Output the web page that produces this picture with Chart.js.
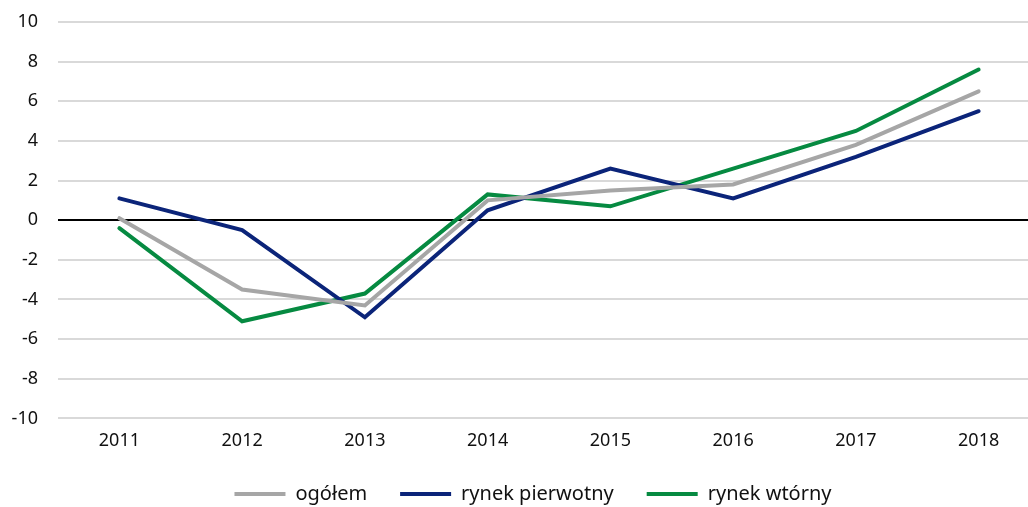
<!DOCTYPE html>
<html>
<head>
<meta charset="utf-8">
<script src="https://cdn.jsdelivr.net/npm/chart.js@4/dist/chart.umd.min.js"></script>
<style>
  html,body{margin:0;padding:0;background:#fff;overflow:hidden;}
  #wrap{width:1040px;height:507px;}
</style>
</head>
<body>
<div id="wrap"><canvas id="chart" width="1040" height="507"></canvas></div>
<script>
const years = ['2011','2012','2013','2014','2015','2016','2017','2018'];
const ogolem = [0.1, -3.5, -4.3, 1.0, 1.5, 1.8, 3.8, 6.5];
const pierwotny = [1.1, -0.5, -4.9, 0.5, 2.6, 1.1, 3.2, 5.5];
const wtorny = [-0.4, -5.1, -3.7, 1.3, 0.7, 2.6, 4.5, 7.6];
const seriesNames = ['ogółem', 'rynek pierwotny', 'rynek wtórny'];
const colors = ['#a6a6a6', '#0b2479', '#068a41'];

const FONT = '"Noto Sans", sans-serif';

// nudge the legend to where it sits in the original
const legendShift = {
  id: 'legendShift',
  afterLayout(chart) {
    const lg = chart.legend;
    lg.left += 13; lg.right += 13;
    lg.top = 451; lg.bottom = 507;
  }
};

const ctx = document.getElementById('chart').getContext('2d');
new Chart(ctx, {
  type: 'line',
  data: {
    labels: years,
    datasets: [ogolem, pierwotny, wtorny].map((d, i) => ({
      label: seriesNames[i],
      data: d,
      borderColor: colors[i],
      backgroundColor: colors[i],
      borderWidth: 4,
      pointRadius: 0,
      tension: 0,
      fill: false,
      borderCapStyle: 'round',
      borderJoinStyle: 'miter'
    }))
  },
  plugins: [legendShift],
  options: {
    responsive: false,
    animation: false,
    layout: { padding: { left: 0, top: 22, right: 0, bottom: 0 } },
    plugins: {
      tooltip: { enabled: false },
      legend: {
        position: 'bottom',
        maxHeight: 43,
        labels: {
          font: { family: FONT, size: 20 },
          color: '#111',
          boxWidth: 51,
          boxHeight: 4,
          padding: 33,
          generateLabels: chart => Chart.defaults.plugins.legend.labels.generateLabels(chart).map(l => {
            l.lineWidth = 0;
            l.strokeStyle = 'rgba(0,0,0,0)';
            return l;
          })
        }
      }
    },
    scales: {
      x: {
        offset: true,
        grid: { display: false, drawTicks: false },
        border: { display: false },
        ticks: { font: { family: FONT, size: 18 }, color: '#111', padding: 12 }
      },
      y: {
        min: -10,
        max: 10,
        afterFit: s => { s.width = 58; s.paddingTop = 0; s.paddingBottom = 0; },
        grid: {
          drawTicks: false,
          color: c => c.tick.value === 0 ? '#000' : '#d9d9d9',
          lineWidth: 2
        },
        border: { display: false },
        ticks: { stepSize: 2, font: { family: FONT, size: 18 }, color: '#111', padding: 20 }
      }
    }
  }
});
</script>
</body>
</html>
